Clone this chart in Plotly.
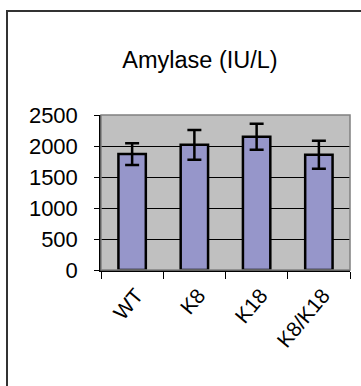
import plotly.graph_objects as go

categories = ["WT", "K8", "K18", "K8/K18"]
amylase = [1870, 2020, 2150, 1860]
amylase_err = [175, 240, 210, 225]
y_ticks = [0, 500, 1000, 1500, 2000, 2500]

font_family = "Liberation Sans, Arial, sans-serif"

fig = go.Figure()
fig.add_trace(go.Bar(
    x=categories,
    y=amylase,
    marker=dict(color="#9696CA", line=dict(color="black", width=2.5)),
    error_y=dict(type="data", array=amylase_err, visible=True,
                 color="black", thickness=2.5, width=7),
    width=0.44,
))

W, H = 361, 386
ml, mr, mt, mb = 101, 11, 115, 116
pw = W - ml - mr
ph = H - mt - mb

def px_to_paper_x(px):
    return (px - ml) / pw

def px_to_paper_y(py):
    return 1 - (py - mt) / ph

shapes = [
    # outer chart border
    dict(type="rect", xref="paper", yref="paper",
         x0=px_to_paper_x(7), x1=px_to_paper_x(380),
         y0=px_to_paper_y(400), y1=px_to_paper_y(11),
         line=dict(color="#333333", width=2), layer="below"),
    # plot area border (gray)
    dict(type="rect", xref="paper", yref="paper",
         x0=0, x1=1, y0=0, y1=1,
         line=dict(color="#808080", width=1.5), layer="above"),
]

fig.update_layout(
    width=W, height=H,
    margin=dict(l=ml, r=mr, t=mt, b=mb, autoexpand=False),
    paper_bgcolor="white",
    plot_bgcolor="#C0C0C0",
    showlegend=False,
    font=dict(family=font_family, color="black"),
    title=dict(text="Amylase (IU/L)", x=200 / W, xref="container", xanchor="center",
               y=1 - 60 / H, yanchor="middle",
               font=dict(size=23.5, family=font_family, color="black")),
    shapes=shapes,
    bargap=0.56,
)

fig.update_xaxes(
    type="category",
    tickangle=-50,
    tickfont=dict(size=21, family=font_family, color="black"),
    showline=True, linecolor="black", linewidth=1.5,
    ticks="outside", tickson="boundaries", ticklen=7, tickcolor="black", tickwidth=1,
    ticklabelshift=4, ticklabelstandoff=3,
    showgrid=False,
)

fig.update_yaxes(
    range=[0, 2500],
    tickvals=y_ticks,
    ticktext=[str(v) for v in y_ticks],
    tickfont=dict(size=22, family=font_family, color="black"),
    showline=True, linecolor="black", linewidth=1.5,
    ticks="outside", ticklen=5, tickcolor="black", tickwidth=1,
    ticklabelstandoff=12,
    showgrid=True, gridcolor="black", gridwidth=1,
    zeroline=False,
)

fig.write_html("out.html", config={"displayModeBar": False},
               post_script="document.body.style.margin='0';")
